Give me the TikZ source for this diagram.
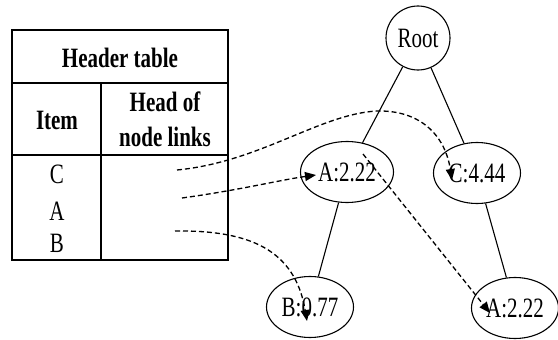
\documentclass[tikz,border=0pt]{standalone}
\usepackage{fontspec}
\setmainfont{Liberation Serif}[FakeStretch=0.75]
\usetikzlibrary{shapes.geometric,arrows.meta}
\begin{document}
\begin{tikzpicture}[x=1pt,y=-1pt,
  every node/.style={font=\fontsize{28}{34}\selectfont, inner sep=0pt},
  treenode/.style={draw, line width=1.1pt},
  roundnode/.style={treenode, circle, minimum size=64pt},
  itemnode/.style={treenode, ellipse, minimum width=87pt, minimum height=61pt},
  edge/.style={line width=1.1pt},
  nodelink/.style={line width=1.3pt, dash pattern=on 5pt off 3pt,
    -{Triangle[length=11pt,width=9pt]}},
  tableline/.style={line width=1.5pt},
  headtext/.style={font=\fontsize{28}{35}\selectfont\bfseries, align=center},
  itemtext/.style={font=\fontsize{28}{34}\selectfont}]
\useasboundingbox (0,0) rectangle (558,340);

% header table
\draw[tableline] (12,30) rectangle (228,260);
\draw[tableline] (12,83) -- (228,83);
\draw[tableline] (12,155) -- (228,155);
\draw[tableline] (101,83) -- (101,260);
\node[headtext] (title) at (120,58) {Header table};
\node[headtext] (itemhead) at (57,120) {Item};
\node[headtext] (linkhead) at (165,119) {Head of\\node links};
\node[itemtext] (ic) at (57,174) {C};
\node[itemtext] (ia) at (57,211) {A};
\node[itemtext] (ib) at (57,243) {B};

% link starts in the table
\coordinate (hc) at (177,170);
\coordinate (ha) at (182,198);
\coordinate (hb) at (175,231);

% FP-tree
\node[roundnode] (root) at (418,38) {Root};
\node[itemnode, minimum width=93pt] (a1) at (347,172) {A:2.22};
\node[itemnode] (c1) at (477,173) {C:4.44};
\node[itemnode] (b1) at (310,307) {B:0.77};
\node[itemnode] (a2) at (515,308) {A:2.22};

\draw[edge] (root) -- (a1);
\draw[edge] (root) -- (c1);
\draw[edge] (a1) -- (b1);
\draw[edge] (c1) -- (a2);

% node links
\draw[nodelink] (hc) .. controls (260,162) and (320,114) .. (377,111)
  .. controls (420,110) and (445,135) .. ([shift={(-25pt,-7pt)}]c1.center);
\draw[nodelink] (ha) .. controls (240,190) and (280,180) .. ([shift={(-31pt,-3pt)}]a1.center);
\draw[nodelink] (hb) .. controls (250,230) and (295,250) .. ([shift={(-3pt,-14pt)}]b1.center);
\draw[nodelink] ([shift={(16pt,18pt)}]a1.center) -- ([shift={(-25pt,-5pt)}]a2.center);
\end{tikzpicture}
\end{document}
